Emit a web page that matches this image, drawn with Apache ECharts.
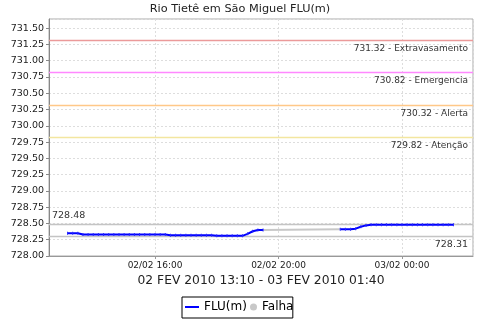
<!DOCTYPE html>
<html>
<head>
<meta charset="utf-8">
<script src="https://cdn.jsdelivr.net/npm/echarts@6/dist/echarts.min.js"></script>
<style>
html,body{margin:0;padding:0;background:#fff;}
#c{width:480px;height:320px;}
</style>
</head>
<body>
<div id="c"></div>
<script>
// ---- data ----
var titleText = 'Rio Tietê em São Miguel FLU(m)';
var axisName = '02 FEV 2010 13:10 - 03 FEV 2010 01:40';
var xMin = '2010-02-02 12:34';
var xMax = '2010-02-03 02:18';
var yMin = 728.00, yMax = 731.64, yStep = 0.25;

var times1 = ['2010-02-02 13:10','2010-02-02 13:20','2010-02-02 13:30','2010-02-02 13:40','2010-02-02 13:50',
  '2010-02-02 14:00','2010-02-02 14:10','2010-02-02 14:20','2010-02-02 14:30','2010-02-02 14:40','2010-02-02 14:50',
  '2010-02-02 15:00','2010-02-02 15:10','2010-02-02 15:20','2010-02-02 15:30','2010-02-02 15:40','2010-02-02 15:50',
  '2010-02-02 16:00','2010-02-02 16:10','2010-02-02 16:20','2010-02-02 16:30','2010-02-02 16:40','2010-02-02 16:50',
  '2010-02-02 17:00','2010-02-02 17:10','2010-02-02 17:20','2010-02-02 17:30','2010-02-02 17:40','2010-02-02 17:50',
  '2010-02-02 18:00','2010-02-02 18:10','2010-02-02 18:20','2010-02-02 18:30','2010-02-02 18:40','2010-02-02 18:50',
  '2010-02-02 19:00','2010-02-02 19:10','2010-02-02 19:20','2010-02-02 19:30'];
var values1 = [728.35,728.35,728.35,728.33,728.33,
  728.33,728.33,728.33,728.33,728.33,728.33,
  728.33,728.33,728.33,728.33,728.33,728.33,
  728.33,728.33,728.33,728.32,728.32,728.32,
  728.32,728.32,728.32,728.32,728.32,728.32,
  728.31,728.31,728.31,728.31,728.31,728.31,
  728.34,728.38,728.40,728.40];

var times2 = ['2010-02-02 22:00','2010-02-02 22:10','2010-02-02 22:20','2010-02-02 22:30','2010-02-02 22:40','2010-02-02 22:50',
  '2010-02-02 23:00','2010-02-02 23:10','2010-02-02 23:20','2010-02-02 23:30','2010-02-02 23:40','2010-02-02 23:50',
  '2010-02-03 00:00','2010-02-03 00:10','2010-02-03 00:20','2010-02-03 00:30','2010-02-03 00:40','2010-02-03 00:50',
  '2010-02-03 01:00','2010-02-03 01:10','2010-02-03 01:20','2010-02-03 01:30','2010-02-03 01:40'];
var values2 = [728.41,728.41,728.41,728.42,728.45,728.47,
  728.48,728.48,728.48,728.48,728.48,728.48,
  728.48,728.48,728.48,728.48,728.48,728.48,
  728.48,728.48,728.48,728.48,728.48];

var gapTimes = ['2010-02-02 19:30','2010-02-02 22:00'];
var gapValues = [728.40, 728.41];

var thresholdValues = [731.32, 730.82, 730.32, 729.82];
var thresholdNames = ['Extravasamento','Emergencia','Alerta','Atenção'];
var thresholdColors = ['#eb9a9a','#ff88ff','#ffc888','#f3e6a0'];
var maxValue = 728.48, minValue = 728.31;

// ---- build ----
var fluData = times1.map(function(t,i){return [t, values1[i]];})
  .concat([['2010-02-02 19:40', null]])
  .concat(times2.map(function(t,i){return [t, values2[i]];}));
var gapData = gapTimes.map(function(t,i){return [t, gapValues[i]];});

var FONT = 'DejaVu Sans';
var markData = thresholdValues.map(function(v,i){
  return {yAxis: v, lineStyle:{color: thresholdColors[i], width:1.3, type:'solid'},
    label:{show:true, position:'insideEndBottom', formatter: v.toFixed(2)+' - '+thresholdNames[i],
      color:'#333', fontSize:9, fontFamily:FONT, distance:[5,4]}};
});
markData.push({yAxis: maxValue, lineStyle:{color:'#c4c4c4', width:1.3, type:'solid'},
  label:{show:true, position:'insideStartTop', formatter: maxValue.toFixed(2), color:'#333', fontSize:9.5, fontFamily:FONT, distance:[3,4]}});
markData.push({yAxis: minValue, lineStyle:{color:'#c4c4c4', width:1.3, type:'solid'},
  label:{show:true, position:'insideEndBottom', formatter: minValue.toFixed(2), color:'#333', fontSize:9.5, fontFamily:FONT, distance:[5,4]}});

var chart = echarts.init(document.getElementById('c'), null, {renderer:'canvas'});
chart.setOption({
  animation:false,
  backgroundColor:'#fff',
  textStyle:{fontFamily:FONT},
  title:{text:titleText, left:'center', top:4, padding:0, textStyle:{fontSize:11.3, fontWeight:'normal', color:'#222', fontFamily:FONT}},
  grid:{left:49, right:7, top:19, bottom:64, show:true, borderColor:'#aaa', borderWidth:1, backgroundColor:'#fff'},
  legend:[{
    left:182, top:297, padding:[4,46,5,2], itemGap:0, itemWidth:14, itemHeight:7,
    borderColor:'#000', borderWidth:1, z:4,
    textStyle:{fontSize:12, color:'#000', fontFamily:FONT},
    data:[{name:'FLU(m)', itemStyle:{color:'rgba(0,0,0,0)', borderWidth:0}}]
  },{
    left:250, top:301, padding:0, itemWidth:7, itemHeight:7, z:5,
    textStyle:{fontSize:12, color:'#000', fontFamily:FONT},
    data:[{name:'Falha', icon:'circle', itemStyle:{color:'#c8c8c8'}}]
  }],
  xAxis:{
    type:'time', min:xMin, max:xMax,
    minInterval:4*3600*1000, maxInterval:4*3600*1000,
    name:axisName, nameLocation:'middle', nameGap:19,
    nameTextStyle:{fontSize:12.3, color:'#222', fontFamily:FONT},
    axisLine:{lineStyle:{color:'#999'}},
    axisTick:{show:true, length:3, lineStyle:{color:'#999'}},
    axisLabel:{fontSize:9, color:'#222', margin:5, showMinLabel:false, showMaxLabel:false, hideOverlap:false,
      formatter:function(v){return echarts.time.format(v,'{dd}/{MM} {HH}:{mm}',false);}},
    splitLine:{show:true, lineStyle:{color:'#ddd', type:[2,2]}}
  },
  yAxis:{
    type:'value', min:yMin, max:yMax, interval:yStep,
    axisLine:{show:true, lineStyle:{color:'#888'}},
    axisTick:{show:true, length:3, lineStyle:{color:'#888'}},
    axisLabel:{fontSize:9.5, color:'#222', margin:5, showMaxLabel:false,
      formatter:function(v){return v.toFixed(2);}},
    splitLine:{show:true, lineStyle:{color:'#ddd', type:[2,2]}}
  },
  series:[
    {name:'FLU(m)', type:'line', data:fluData, connectNulls:false,
     symbol:'rect', symbolSize:[1,3], showSymbol:true,
     itemStyle:{color:'#2a2aff'}, lineStyle:{color:'#0000ff', width:2}, z:5,
     markLine:{silent:true, symbol:'none', animation:false, data:markData}},
    {name:'Falha', type:'line', data:gapData, symbol:'none',
     itemStyle:{color:'#c8c8c8'}, lineStyle:{color:'#c8c8c8', width:2}, z:4}
  ]
});
</script>
</body>
</html>
